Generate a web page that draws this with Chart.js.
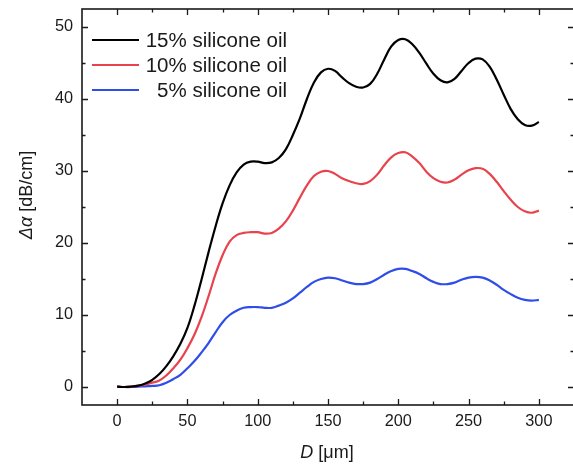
<!DOCTYPE html>
<html>
<head>
<meta charset="utf-8">
<script src="https://cdn.jsdelivr.net/npm/chart.js@4"></script>
<style>
html,body{margin:0;padding:0;background:#fff;overflow:hidden;}
#wrap{position:absolute;left:0;top:0;width:576px;height:468px;}
</style>
</head>
<body>
<div id="wrap"><canvas id="c" width="576" height="468"></canvas></div>
<script>
const D = [0,5,10,15,20,25,30,35,40,45,50,55,60,65,70,75,80,85,90,95,100,105,110,115,120,125,130,135,140,145,150,155,160,165,170,175,180,185,190,195,200,205,210,215,220,225,230,235,240,245,250,255,260,265,270,275,280,285,290,295,300];
const oil15 = [0.05,0,0.05,0.2,0.5,1.0,1.8,2.9,4.3,6.0,8.2,11.3,14.9,18.7,22.3,25.5,28.0,29.8,30.9,31.3,31.3,31.1,31.2,31.8,33.0,35.0,37.3,40.0,42.3,43.7,44.2,43.9,43.0,42.2,41.7,41.6,42.1,43.5,45.5,47.3,48.2,48.3,47.6,46.4,44.9,43.5,42.6,42.3,42.8,43.9,45.0,45.6,45.5,44.5,42.7,40.6,38.6,37.2,36.4,36.3,36.8];
const oil10 = [0.05,0,0.05,0.15,0.35,0.6,0.9,1.6,2.6,3.8,5.4,7.3,9.7,12.6,15.7,18.3,20.2,21.1,21.4,21.5,21.5,21.3,21.4,22.0,23.0,24.5,26.3,28.0,29.3,29.9,30.0,29.6,29.0,28.6,28.3,28.2,28.6,29.5,30.8,31.9,32.5,32.6,32.0,31.1,29.9,29.0,28.5,28.4,28.8,29.5,30.1,30.4,30.3,29.6,28.5,27.2,26.0,25.0,24.4,24.2,24.5];
const oil5 = [0.05,0,0,0.05,0.1,0.15,0.25,0.6,1.1,1.7,2.6,3.6,4.8,6.1,7.6,9.0,10.0,10.6,11.0,11.1,11.1,11.0,11.0,11.3,11.7,12.3,13.1,13.9,14.6,15.0,15.2,15.1,14.8,14.5,14.3,14.3,14.5,15.0,15.6,16.1,16.4,16.4,16.1,15.7,15.1,14.6,14.3,14.3,14.5,14.9,15.2,15.3,15.2,14.8,14.2,13.5,12.9,12.4,12.1,12.0,12.1];
const seriesLabels = ['15% silicone oil','10% silicone oil',' 5% silicone oil'];
const seriesColors = ['#000000','#e8424c','#2f4de8'];
const xTickValues = [0,50,100,150,200,250,300];
const yTickValues = [0,10,20,30,40,50];
const xMinorStep = 25, yMinorStep = 5;

const FONT = '"Liberation Sans", Arial, sans-serif';
const toPts = ys => D.map((x,i)=>({x:x,y:ys[i]}));
const allSeries = [oil15, oil10, oil5];

const framePlugin = {
  id:'frame',
  afterDatasetsDraw(chart){
    const {ctx, chartArea:a, scales:{x,y}} = chart;
    ctx.save();
    ctx.strokeStyle = '#1a1a1a';
    ctx.lineWidth = 1.6;
    ctx.strokeRect(a.left, a.top, a.right-a.left, a.bottom-a.top);
    ctx.lineWidth = 1.3;
    ctx.beginPath();
    for(let v=-25; v<=325; v+=xMinorStep){
      const px = Math.round(x.getPixelForValue(v))+0.5;
      if(px < a.left+1 || px > a.right-1) continue;
      const len = (v % 50 === 0) ? 6 : 3.5;
      ctx.moveTo(px, a.bottom); ctx.lineTo(px, a.bottom-len);
      ctx.moveTo(px, a.top); ctx.lineTo(px, a.top+len);
    }
    for(let v=0; v<=50; v+=yMinorStep){
      const py = Math.round(y.getPixelForValue(v))+0.5;
      const len = (v % 10 === 0) ? 6 : 3.5;
      ctx.moveTo(a.left, py); ctx.lineTo(a.left+len, py);
      ctx.moveTo(a.right, py); ctx.lineTo(a.right-len, py);
    }
    ctx.stroke();

    // legend
    ctx.textBaseline = 'middle';
    ctx.font = '20.5px ' + FONT;
    ctx.textAlign = 'right';
    const rows = [40, 65, 90];
    chart.data.datasets.forEach((ds,i)=>{
      const yy = rows[i];
      ctx.strokeStyle = ds.borderColor;
      ctx.lineWidth = 2.2;
      ctx.beginPath(); ctx.moveTo(92, yy); ctx.lineTo(139, yy); ctx.stroke();
      ctx.fillStyle = '#1a1a1a';
      ctx.fillText(ds.label, 287, yy+1);
    });

    // axis titles with italic symbols
    ctx.fillStyle = '#1a1a1a';
    ctx.textAlign = 'left';
    ctx.textBaseline = 'middle';
    const itF = 'italic 18px ' + FONT, nF = '18px ' + FONT;
    ctx.font = itF; const wD = ctx.measureText('D').width;
    ctx.font = nF; const wU = ctx.measureText(' [\u03bcm]').width;
    let sx = 327 - (wD+wU)/2;
    ctx.font = itF; ctx.fillText('D', sx, 453);
    ctx.font = nF; ctx.fillText(' [\u03bcm]', sx+wD, 453);

    ctx.save();
    ctx.translate(27, 195);
    ctx.rotate(-Math.PI/2);
    ctx.font = itF; const wA = ctx.measureText('\u0394\u03b1').width;
    ctx.font = nF; const wB = ctx.measureText(' [dB/cm]').width;
    sx = -(wA+wB)/2;
    ctx.font = itF; ctx.fillText('\u0394\u03b1', sx, 0);
    ctx.font = nF; ctx.fillText(' [dB/cm]', sx+wA, 0);
    ctx.restore();
    ctx.restore();
  }
};

new Chart(document.getElementById('c'), {
  type:'line',
  data:{
    datasets: allSeries.map((s,i)=>({
      label: seriesLabels[i],
      data: toPts(s),
      borderColor: seriesColors[i],
      borderWidth: 2.2,
      pointRadius: 0,
      fill:false,
      tension:0.4
    }))
  },
  options:{
    responsive:false,
    animation:false,
    layout:{padding:{top:0, right:2, left:0, bottom:0}},
    plugins:{legend:{display:false}, tooltip:{enabled:false}},
    scales:{
      x:{
        type:'linear', min:-25, max:325,
        grid:{display:false, drawTicks:false, tickLength:0}, border:{display:false},
        afterBuildTicks: s => { s.ticks = xTickValues.map(v=>({value:v})); },
        afterFit: s => { s.height = 63; s.paddingLeft = 0; s.paddingRight = 0; },
        ticks:{padding:7, color:'#1a1a1a', font:{family:FONT, size:16.3}, maxRotation:0}
      },
      y:{
        type:'linear', min:-2.5, max:52.5,
        grid:{display:false, drawTicks:false, tickLength:0}, border:{display:false},
        afterBuildTicks: s => { s.ticks = yTickValues.map(v=>({value:v})); },
        afterFit: s => { s.width = 82; s.paddingTop = 9; s.paddingBottom = 0; },
        ticks:{padding:9, color:'#1a1a1a', font:{family:FONT, size:16.3}}
      }
    }
  },
  plugins:[framePlugin]
});
</script>
</body>
</html>
